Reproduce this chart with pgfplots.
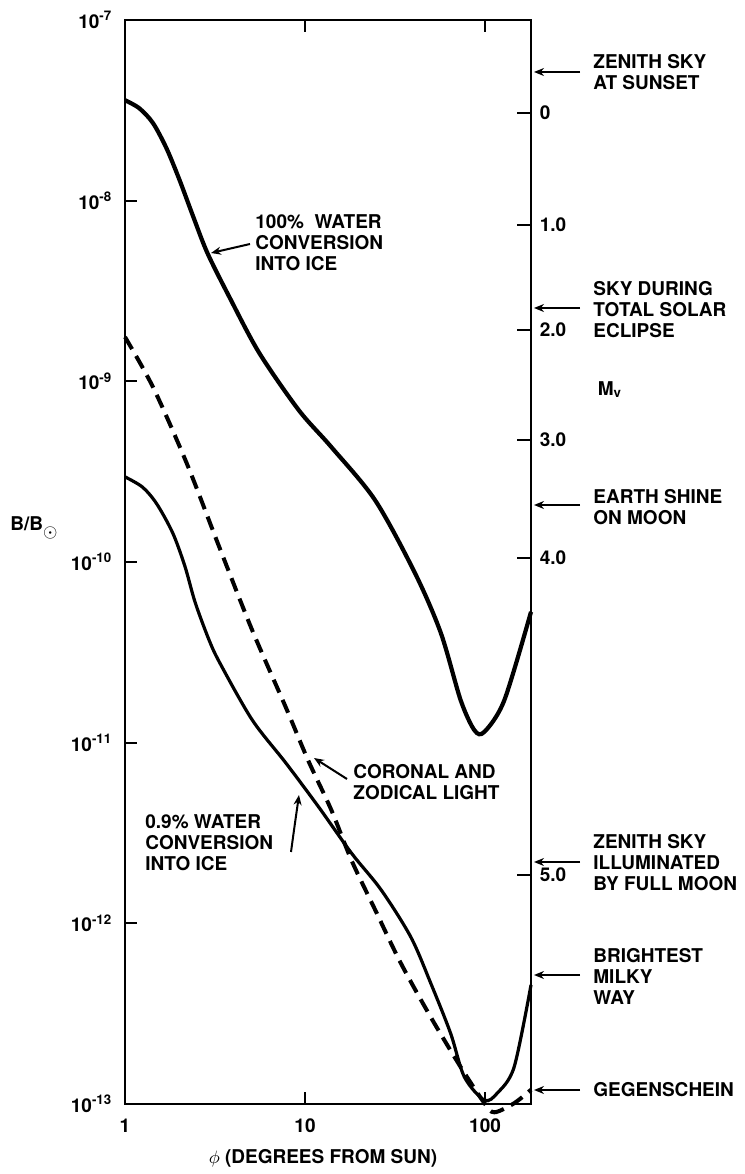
\documentclass[border=0pt]{standalone}
\usepackage{pgfplots}
\pgfplotsset{compat=1.18}
\usepackage{fontspec}
\setmainfont{TeX Gyre Heros}
\usetikzlibrary{arrows.meta}
\newcommand{\lbl}{\fontsize{9.5}{10.5}\selectfont\bfseries}
\begin{document}
\lbl
\begin{tikzpicture}
\begin{axis}[
  at={(0,0)}, anchor=south west,
  scale only axis, width=203pt, height=542pt,
  xmode=log, ymode=log,
  xmin=1, xmax=180, ymin=1e-13, ymax=1e-7,
  axis line style={line width=1.3pt},
  xtick={1,10,100}, xticklabels={1,10,100},
  ytick={1e-13,1e-12,1e-11,1e-10,1e-9,1e-8,1e-7},
  yticklabels={10\textsuperscript{-13},10\textsuperscript{-12},10\textsuperscript{-11},10\textsuperscript{-10},10\textsuperscript{-9},10\textsuperscript{-8},10\textsuperscript{-7}},
  xminorticks=false, yminorticks=false,
  xtick pos=both, ytick pos=left,
  tick align=inside,
  major tick length=6pt,
  tick style={line width=1pt, black},
  xticklabel style={yshift=-4pt},
  yticklabel style={xshift=-3pt},
  every tick label/.append style={font=\lbl},
  clip=false,
]
% 100% water conversion into ice
\addplot[line width=2.1pt, smooth, tension=0.5] coordinates {
(1,3.6e-8) (1.2,3.25e-8) (1.43,2.69e-8) (1.7,1.95e-8) (2.01,1.30e-8) (2.4,8.1e-9) (2.87,5.13e-9) (3.80,2.93e-9)
(5.56,1.44e-9) (9.23,6.93e-10) (14.0,4.33e-10) (24.5,2.20e-10) (40.8,8.69e-11)
(56.8,4.05e-11) (73.2,1.72e-11) (87.4,1.17e-11) (99.3,1.15e-11) (128,1.72e-11) (180,5.3e-11)};
% coronal and zodiacal light
\addplot[line width=2pt, dash pattern=on 7pt off 4pt, smooth, tension=0.5] coordinates {
(1,1.76e-9) (1.43,9.3e-10) (2.20,3.53e-10) (3.34,1.21e-10) (5.08,4.21e-11)
(7.82,1.57e-11) (10.4,8.0e-12) (14.0,4.24e-12) (18.1,2.24e-12) (24.5,1.19e-12)
(34.0,6.04e-13) (49.9,3.03e-13) (73.3,1.60e-13) (99.3,1.01e-13) (112.6,9.0e-14)
(145,1.01e-13) (180,1.2e-13)};
% 0.9% water conversion into ice
\addplot[line width=1.6pt, smooth, tension=0.5] coordinates {
(1,2.96e-10) (1.25,2.6e-10) (1.5,2.1e-10) (1.84,1.45e-10) (2.15,9.5e-11) (2.45,6.0e-11)
(2.9,3.8e-11) (3.34,2.8e-11) (5.08,1.34e-11) (7.82,7.73e-12) (11.9,4.41e-12) (18.1,2.45e-12)
(26.5,1.53e-12) (38.7,8.40e-13) (49.9,4.67e-13) (64.3,2.47e-13) (76.8,1.41e-13)
(99.3,1.05e-13) (117,1.15e-13) (145,1.60e-13) (180,4.56e-13)};
\end{axis}
\begin{axis}[
  at={(0,0)}, anchor=south west,
  scale only axis, width=203pt, height=542pt,
  xmode=log, ymode=log,
  xmin=1, xmax=180, ymin=1e-13, ymax=1e-7,
  axis x line=none, axis y line*=right,
  axis line style={line width=1.3pt},
  ytick={1.85e-12,1.05e-10,4.73e-10,1.92e-9,7.33e-9,3.05e-8},
  yticklabels={5.0,4.0,3.0,2.0,1.0,0},
  yminorticks=false,
  tick align=inside,
  major tick length=7pt,
  tick style={line width=1pt, black},
  yticklabel style={anchor=west, xshift=1pt},
  every tick label/.append style={font=\lbl},
]
\end{axis}
\begin{scope}[x=0.5pt, y=-0.5pt, shift={(-62.5pt,552pt)}, font=\lbl]
  % left and bottom labels
  \node at (34,528) {B/B\raisebox{-3.5pt}{$\odot$}};
  \node at (323,1158) {$\phi$ (DEGREES FROM SUN)};
  \node at (610,390) {M\textsubscript{v}};
  % curve annotations
  \node[anchor=west, align=left, inner sep=0pt] at (255,243) {100\%\ \ WATER\\CONVERSION\\INTO ICE};
  \draw[line width=1pt, -{Stealth[length=5pt,width=4pt]}] (250,244) -- (211,253);
  \node[anchor=west, align=left, inner sep=0pt] at (353,782) {CORONAL AND\\ZODICAL LIGHT};
  \draw[line width=1pt, -{Stealth[length=5pt,width=4pt]}] (347,779) -- (314,758);
  \node[anchor=west, align=left, inner sep=0pt] at (145,843) {0.9\% WATER\\CONVERSION\\INTO ICE};
  \draw[line width=1pt, -{Stealth[length=5pt,width=4pt]}] (291,852) .. controls (294,830) .. (299,795);
  % right side references
  \foreach \yy in {72,308,505,862,975,1090}
    \draw[line width=1pt, -{Stealth[length=5pt,width=4pt]}] (580,\yy) -- (534,\yy);
  \node[anchor=west, align=left, inner sep=0pt] at (593,72) {ZENITH SKY\\AT SUNSET};
  \node[anchor=west, align=left, inner sep=0pt] at (593,310) {SKY DURING\\TOTAL SOLAR\\ECLIPSE};
  \node[anchor=west, align=left, inner sep=0pt] at (593,507) {EARTH SHINE\\ON MOON};
  \node[anchor=west, align=left, inner sep=0pt] at (593,863) {ZENITH SKY\\ILLUMINATED\\BY FULL MOON};
  \node[anchor=west, align=left, inner sep=0pt] at (593,976) {BRIGHTEST\\MILKY\\WAY};
  \node[anchor=west, align=left, inner sep=0pt] at (593,1090) {GEGENSCHEIN};
\end{scope}
\pgfresetboundingbox
\path (-62.5pt,-35pt) rectangle (310pt,552pt);
\end{tikzpicture}
\end{document}
